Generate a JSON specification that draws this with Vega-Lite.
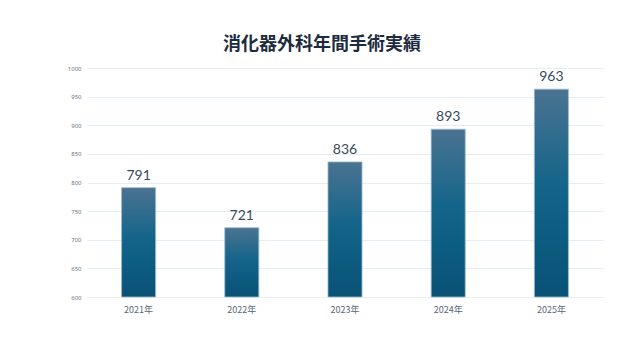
{
  "$schema": "https://vega.github.io/schema/vega-lite/v6.json",
  "autosize": "none",
  "width": 516,
  "height": 229,
  "padding": {"left": 87, "top": 68, "right": 37, "bottom": 63},
  "background": "white",
  "view": {"stroke": null},
  "title": {
    "text": "消化器外科年間手術実績",
    "font": "Noto Sans CJK JP",
    "fontSize": 18,
    "fontWeight": "bold",
    "color": "#1c2b3e",
    "anchor": "middle",
    "dx": -23,
    "offset": 11
  },
  "data": {
    "values": [
      {"year": "2021年", "count": 791},
      {"year": "2022年", "count": 721},
      {"year": "2023年", "count": 836},
      {"year": "2024年", "count": 893},
      {"year": "2025年", "count": 963}
    ]
  },
  "encoding": {
    "x": {
      "field": "year",
      "type": "nominal",
      "sort": null,
      "scale": {"paddingInner": 0.67, "paddingOuter": 0.335},
      "axis": {
        "title": null,
        "labelAngle": 0,
        "labelFont": "Noto Sans CJK JP",
        "labelFontSize": 9,
        "labelColor": "#5a6878",
        "labelPadding": 8,
        "domain": true,
        "domainColor": "#e8eef4",
        "ticks": false
      }
    },
    "y": {
      "field": "count",
      "type": "quantitative",
      "scale": {"domain": [600, 1000], "nice": false, "zero": false},
      "axis": {
        "title": null,
        "format": "d",
        "values": [600, 650, 700, 750, 800, 850, 900, 950, 1000],
        "labelFont": "Noto Sans",
        "labelFontSize": 6,
        "labelColor": "#6b7785",
        "labelPadding": 6,
        "domain": false,
        "ticks": false,
        "grid": true,
        "gridColor": "#e4edf6",
        "gridWidth": 1
      }
    }
  },
  "layer": [
    {
      "mark": {
        "type": "bar",
        "stroke": "#9dbbd0",
        "strokeWidth": 0.8,
        "fill": {
          "gradient": "linear",
          "x1": 0, "y1": 0, "x2": 0, "y2": 1,
          "stops": [
            {"offset": 0, "color": "#4b7391"},
            {"offset": 0.45, "color": "#15658a"},
            {"offset": 0.7, "color": "#0d5c81"},
            {"offset": 1, "color": "#0a5276"}
          ]
        }
      },
      "encoding": {"y2": {"datum": 600}}
    },
    {
      "mark": {
        "type": "text",
        "dy": -12,
        "font": "Lato",
        "fontSize": 14,
        "color": "#3a4a5c"
      },
      "encoding": {"text": {"field": "count", "type": "quantitative"}}
    }
  ]
}
